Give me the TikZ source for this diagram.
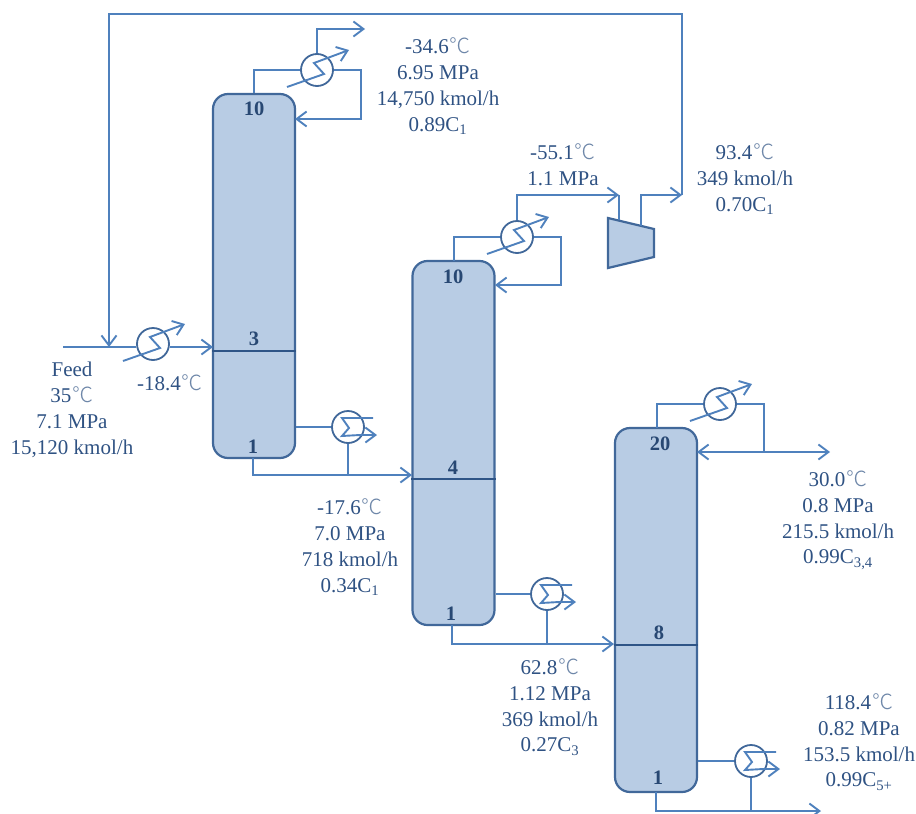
\documentclass[tikz,border=0pt]{standalone}
\usepackage{fontspec}
\setmainfont{Liberation Serif}
\newfontfamily\cjkfont{Noto Sans CJK SC Light}
\usetikzlibrary{arrows.meta}
\definecolor{pipe}{HTML}{4F81BD}
\definecolor{edge}{HTML}{41689A}
\definecolor{tray}{HTML}{2F5587}
\definecolor{fillc}{HTML}{B8CCE4}
\definecolor{txt}{HTML}{2F5283}
\newcommand{\dg}{{\hspace{1pt}\cjkfont\color{txt!70}℃}}
\tikzset{
  x=1pt,y=-1pt,
  barb/.style={-{Straight Barb[length=10pt,width=15pt,line width=1.9pt]}},
  barbboth/.style={{Straight Barb[length=10pt,width=15pt,line width=1.9pt]}-{Straight Barb[length=10pt,width=15pt,line width=1.9pt]}},
  pipeline/.style={draw=pipe,line width=2.1pt,line join=miter},
  column/.style={draw=edge,line width=2.2pt,fill=fillc,rounded corners=15pt,minimum width=82pt,minimum height=364pt,inner sep=0pt},
  exch/.style={circle,draw=edge,line width=1.8pt,fill=white,minimum size=32pt,inner sep=0pt},
  trayline/.style={draw=tray,line width=2.2pt},
  traynum/.style={font=\fontsize{20.5}{22}\selectfont\bfseries,text=tray!85!black,inner sep=0pt},
  info/.style={font=\fontsize{21}{25.8}\selectfont,text=txt,align=center,inner sep=0pt},
  compressor/.style={draw=edge,line width=2.2pt,fill=fillc,line join=miter},
}
\newcommand{\condmark}[1]{%
  \draw[pipeline,line width=1.9pt,barb] ([shift={(-30,17)}]#1.center) -- ([shift={(7,4)}]#1.center) -- ([shift={(-3,-7)}]#1.center) -- ([shift={(32,-20)}]#1.center);}
\newcommand{\rebmark}[1]{%
  \draw[pipeline,line width=1.9pt] ([shift={(25,-9)}]#1.center) -- ([shift={(-6,-9)}]#1.center) -- ([shift={(1,1)}]#1.center) -- ([shift={(-6,9)}]#1.center) -- ([shift={(12,8)}]#1.center);
  \draw[pipeline,line width=1.9pt,barb] ([shift={(10,8)}]#1.center) -- ([shift={(29,8)}]#1.center);}
\begin{document}
\begin{tikzpicture}
\useasboundingbox (0,0) rectangle (916,814);
% columns
\node[column] (col1) at (254,276) {};
\node[column] (col2) at (453.5,443) {};
\node[column] (col3) at (656,610) {};
\draw[trayline] (col1.west |- 0,351) -- (col1.east |- 0,351);
\draw[trayline] (col2.west |- 0,479) -- (col2.east |- 0,479);
\draw[trayline] (col3.west |- 0,645) -- (col3.east |- 0,645);
% exchangers
\node[exch] (feedhx) at (153,344) {};
\node[exch] (cond1) at (317,70) {};
\node[exch] (cond2) at (517,237) {};
\node[exch] (cond3) at (720,404) {};
\node[exch] (reb1) at (348,427) {};
\node[exch] (reb2) at (547,594) {};
\node[exch] (reb3) at (751,761) {};
% compressor
\path[compressor] (608,218) -- (654,229) -- (654,257) -- (608,268) -- cycle;
\coordinate (compin) at (619,220);
\coordinate (compout) at (641,226);
% free points
\coordinate (feedstart) at (63,347);
\coordinate (feedend) at (213,347);
\coordinate (mixpt) at (109,347);
\coordinate (recyc) at (682,195);
\coordinate (ov1) at (365,29);
\coordinate (col1ref) at (295,119);
\coordinate (col2ref) at (495,285);
\coordinate (col3ref) at (697,452);
\coordinate (prod3) at (830,452);
\coordinate (in2) at (412,475);
\coordinate (in3) at (614,644);
\coordinate (out3) at (821,811);
\coordinate (b1) at (253,458);
\coordinate (b2) at (452,625);
\coordinate (b3) at (656,792);
% feed
\draw[pipeline] (feedstart) -- (feedhx.west |- feedstart);
\draw[pipeline,barb] (feedhx.east |- feedend) -- (feedend);
\draw[pipeline,barb] (recyc) -- (682,14) -- (109,14) -- (mixpt);
% col1 overhead
\draw[pipeline] (col1.north) -- (254,70) -- (cond1.west);
\draw[pipeline,barb] (cond1.north) -- (317,29) -- (ov1);
\draw[pipeline,barb] (cond1.east) -- (361,70) -- (361,119) -- (col1ref);
% col2 overhead
\draw[pipeline] (454,261) -- (454,237) -- (cond2.west);
\draw[pipeline,barb] (cond2.north) -- (517,195) -- (619,195);
\draw[pipeline] (compin) -- (619,195);
\draw[pipeline,barb] (compout) -- (641,195) -- (recyc);
\draw[pipeline,barb] (cond2.east) -- (561,237) -- (561,285) -- (col2ref);
% col3 overhead
\draw[pipeline] (657,428) -- (657,404) -- (cond3.west);
\draw[pipeline] (cond3.east) -- (764,404) -- (764,452);
\draw[pipeline,barbboth] (col3ref) -- (prod3);
% bottoms
\draw[pipeline,barb] (b1) -- (253,475) -- (in2);
\draw[pipeline] (reb1.west) -- (reb1.west -| col1.east);
\draw[pipeline] (reb1.south) -- (348,475);
\draw[pipeline,barb] (b2) -- (452,644) -- (in3);
\draw[pipeline] (reb2.west) -- (reb2.west -| col2.east);
\draw[pipeline] (reb2.south) -- (547,644);
\draw[pipeline,barb] (b3) -- (656,811) -- (out3);
\draw[pipeline] (reb3.west) -- (reb3.west -| col3.east);
\draw[pipeline] (reb3.south) -- (751,811);
% exchanger symbols
\condmark{feedhx}\condmark{cond1}\condmark{cond2}\condmark{cond3}
\rebmark{reb1}\rebmark{reb2}\rebmark{reb3}
% tray numbers
\node[traynum] (t1a) at (254,109) {10};
\node[traynum] (t1b) at (254,339) {3};
\node[traynum] (t1c) at (253,447) {1};
\node[traynum] (t2a) at (453,277) {10};
\node[traynum] (t2b) at (453,468) {4};
\node[traynum] (t2c) at (451,614) {1};
\node[traynum] (t3a) at (660,444) {20};
\node[traynum] (t3b) at (659,633) {8};
\node[traynum] (t3c) at (658,778) {1};
% labels
\node[info] (lab1) at (438,86) {-34.6\dg\\6.95 MPa\\14,750 kmol/h\\0.89C\textsubscript{1}};
\node[info] (lab2) at (563,165) {-55.1\dg\\1.1 MPa};
\node[info] (lab3) at (745,179) {93.4\dg\\349 kmol/h\\0.70C\textsubscript{1}};
\node[info] (lab4) at (72,410) {Feed\\35\dg\\7.1 MPa\\15,120 kmol/h};
\node[info] (lab5) at (170,383) {-18.4\dg};
\node[info] (lab6) at (350,547) {-17.6\dg\\7.0 MPa\\718 kmol/h\\0.34C\textsubscript{1}};
\node[info] (lab7) at (550,707) {62.8\dg\\1.12 MPa\\369 kmol/h\\0.27C\textsubscript{3}};
\node[info] (lab8) at (838,520) {30.0\dg\\0.8 MPa\\215.5 kmol/h\\0.99C\textsubscript{3,4}};
\node[info] (lab9) at (859,742) {118.4\dg\\0.82 MPa\\153.5 kmol/h\\0.99C\textsubscript{5+}};
\end{tikzpicture}
\end{document}
